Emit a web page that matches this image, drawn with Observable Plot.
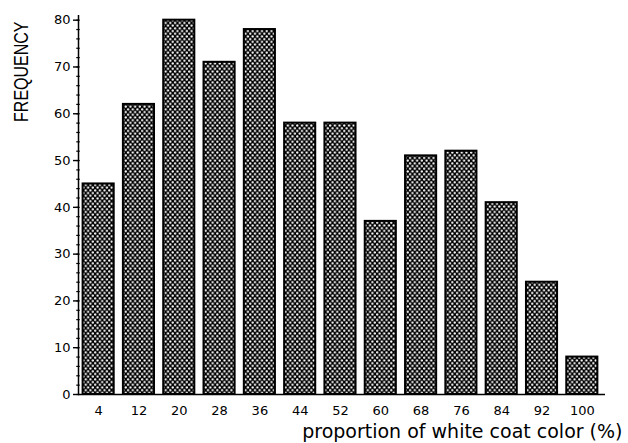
<!DOCTYPE html>
<html>
<head>
<meta charset="utf-8">
<script src="https://cdn.jsdelivr.net/npm/d3@7"></script>
<script src="https://cdn.jsdelivr.net/npm/@observablehq/plot@0.6"></script>
<style>
  html, body { margin: 0; padding: 0; background: white; }
</style>
</head>
<body>
<div id="chart"></div>
<script>
const bins = [4, 12, 20, 28, 36, 44, 52, 60, 68, 76, 84, 92, 100];
const freq = [45, 62, 80, 71, 78, 58, 58, 37, 51, 52, 41, 24, 8];
const yMajor = [0, 10, 20, 30, 40, 50, 60, 70, 80];
const yMinor = d3.range(0, 81, 2);
const xLabel = "proportion of white coat color (%)";
const yLabel = "FREQUENCY";
const binWidth = 8;

const data = bins.map((b, i) => ({bin: b, lo: b - binWidth / 2, hi: b + binWidth / 2, freq: freq[i]}));

function defs() {
  const ns = "http://www.w3.org/2000/svg";
  const d = document.createElementNS(ns, "defs");
  const p = document.createElementNS(ns, "pattern");
  const w = 4.7, h = 5.4;
  p.setAttribute("id", "dots");
  p.setAttribute("patternUnits", "userSpaceOnUse");
  p.setAttribute("width", w);
  p.setAttribute("height", h);
  const r = document.createElementNS(ns, "rect");
  r.setAttribute("width", w); r.setAttribute("height", h); r.setAttribute("fill", "black");
  p.appendChild(r);
  [[w / 4, h / 4], [3 * w / 4, 3 * h / 4]].forEach(([cx, cy]) => {
    const c = document.createElementNS(ns, "circle");
    c.setAttribute("cx", cx); c.setAttribute("cy", cy); c.setAttribute("r", "1.2"); c.setAttribute("fill", "white");
    p.appendChild(c);
  });
  d.appendChild(p);
  return d;
}

const chart = Plot.plot({
  width: 628,
  height: 443,
  marginLeft: 78,
  marginRight: 23,
  marginTop: 15,
  marginBottom: 49,
  x: {domain: [0, 104.6], axis: null},
  y: {domain: [0, 81], axis: null},
  style: {fontFamily: "DejaVu Sans", fontSize: "13px", color: "black", background: "white"},
  marks: [
    defs,
    Plot.rectY(data, {x1: "lo", x2: "hi", y: "freq", fill: "url(#dots)", stroke: "black", strokeWidth: 2, insetLeft: 4.6, insetRight: 4.6}),
    Plot.ruleY([0], {stroke: "black", strokeWidth: 1.6}),
    Plot.ruleX([0], {stroke: "black", strokeWidth: 1.5}),
    Plot.axisY({ticks: yMinor, tickSize: 3.5, dx: 1.75, tickFormat: () => "", label: null, strokeWidth: 1.2}),
    Plot.axisY({ticks: yMajor, tickSize: 6, dx: 1, tickPadding: 3, label: null, strokeWidth: 1.4, fontSize: 13}),
    Plot.axisX({ticks: bins, tickSize: 0, tickPadding: 11, label: null, fontSize: 13}),
    Plot.text([yLabel], {frameAnchor: "top-left", rotate: -90, textAnchor: "end", lineAnchor: "middle", dx: -57, dy: 6, fontSize: 16, fontFamily: "Liberation Sans", fill: "black", className: "ylab"}),
    Plot.text([xLabel], {frameAnchor: "bottom-right", textAnchor: "end", lineAnchor: "middle", dx: 17, dy: 37, fontSize: 19, fill: "black"})
  ]
});
// widen the rotated axis title glyphs to match the reference's wide lettering
d3.select(chart).selectAll(".ylab text").attr("transform", function () {
  const t = this.getAttribute("transform") || "";
  return t + " scale(1,1.3)";
});
document.getElementById("chart").appendChild(chart);
</script>
</body>
</html>
